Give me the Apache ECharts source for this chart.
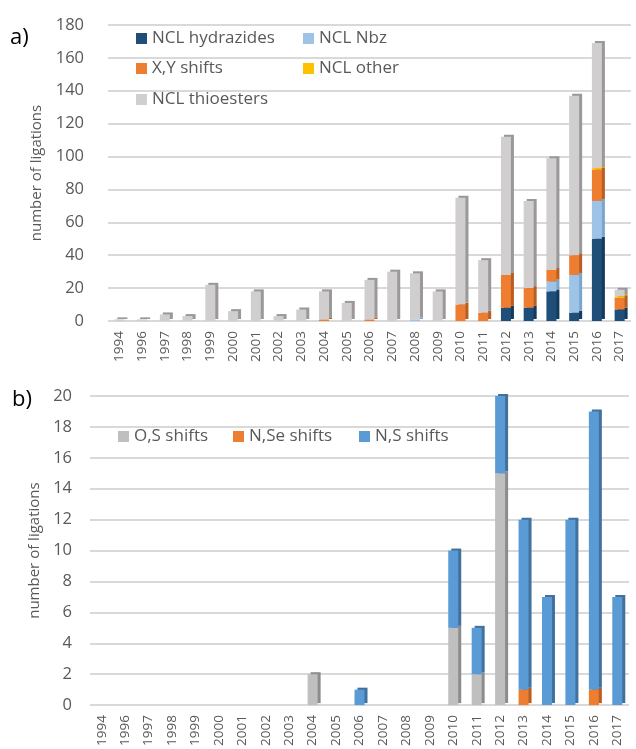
<!DOCTYPE html>
<html>
<head>
<meta charset="utf-8">
<script src="https://cdn.jsdelivr.net/npm/echarts@6/dist/echarts.min.js"></script>
<style>
  html, body { margin: 0; padding: 0; background: #fff; }
  #chart { width: 636px; height: 749px; }
</style>
</head>
<body>
<div id="chart"></div>
<script>
// 年份
const years = ['1994', '1996', '1997', '1998', '1999', '2000', '2001', '2002', '2003', '2004', '2005', '2006',
  '2007', '2008', '2009', '2010', '2011', '2012', '2013', '2014', '2015', '2016', '2017'];

// a) 数据
const nclHydrazides = [0, 0, 0, 0, 0, 0, 0, 0, 0, 0, 0, 0, 0, 0, 0, 0, 0, 8, 8, 18, 5, 50, 7];
const nclNbz        = [0, 0, 0, 0, 0, 0, 0, 0, 0, 0, 0, 0, 0, 1, 0, 0, 0, 0, 0, 6, 23, 23, 0];
const xyShifts      = [0, 0, 0, 0, 0, 0, 0, 0, 0, 1, 0, 1, 0, 0, 0, 10, 5, 20, 12, 7, 12, 19, 7];
const nclOther      = [0, 0, 0, 0, 0, 0, 0, 0, 0, 0, 0, 0, 0, 0, 0, 0, 0, 0, 0, 0, 0, 1, 1];
const nclThioesters = [1, 1, 4, 3, 22, 6, 18, 3, 7, 17, 11, 24, 30, 28, 18, 65, 32, 84, 53, 68, 97, 76, 4];

// b) 数据
const osShifts  = [0, 0, 0, 0, 0, 0, 0, 0, 0, 2, 0, 0, 0, 0, 0, 5, 2, 15, 0, 0, 0, 0, 0];
const nseShifts = [0, 0, 0, 0, 0, 0, 0, 0, 0, 0, 0, 0, 0, 0, 0, 0, 0, 0, 1, 0, 0, 1, 0];
const nsShifts  = [0, 0, 0, 0, 0, 0, 0, 0, 0, 0, 0, 1, 0, 0, 0, 5, 3, 5, 11, 7, 12, 18, 7];

const FONT = '"Open Sans", sans-serif';
const LABEL_COLOR = '#595959';

// 仿 Excel 3D 柱子的侧面
function barSeries(name, data, color, side, axisIdx) {
  return {
    name: name,
    type: 'bar',
    stack: 'total' + axisIdx,
    xAxisIndex: axisIdx,
    yAxisIndex: axisIdx,
    data: data,
    barWidth: 10,
    itemStyle: {
      color: color,
      shadowColor: side,
      shadowBlur: 0,
      shadowOffsetX: 3,
      shadowOffsetY: -2
    }
  };
}

function legendItem(name, left, top) {
  return {
    data: [name],
    left: left,
    top: top,
    padding: 0,
    icon: 'rect',
    itemWidth: 11,
    itemHeight: 11,
    itemGap: 6,
    textStyle: { color: LABEL_COLOR, fontSize: 17, fontFamily: FONT },
    selectedMode: false
  };
}

function xAxis(gridIdx) {
  return {
    type: 'category',
    gridIndex: gridIdx,
    data: years,
    axisLine: { show: false },
    axisTick: { show: false },
    axisLabel: { rotate: 90, color: LABEL_COLOR, fontSize: 13.5, fontFamily: FONT, margin: 10 }
  };
}

function yAxis(gridIdx, max, interval, nameGap, labelMargin) {
  return {
    type: 'value',
    gridIndex: gridIdx,
    min: 0,
    max: max,
    interval: interval,
    name: 'number of ligations',
    nameLocation: 'middle',
    nameGap: nameGap,
    nameTextStyle: { color: LABEL_COLOR, fontSize: 15, fontFamily: FONT },
    axisLine: { show: false },
    axisTick: { show: false },
    axisLabel: { color: LABEL_COLOR, fontSize: 16.5, fontFamily: FONT, margin: labelMargin },
    splitLine: { lineStyle: { color: '#d9d9d9', width: 2 } }
  };
}

const chart = echarts.init(document.getElementById('chart'));

chart.setOption({
  backgroundColor: '#fff',
  animation: false,
  title: [
    { text: 'a)', left: 5, top: 22, textStyle: { fontSize: 22, fontWeight: 'normal', color: '#000', fontFamily: FONT } },
    { text: 'b)', left: 7, top: 384, textStyle: { fontSize: 22, fontWeight: 'normal', color: '#000', fontFamily: FONT } }
  ],
  legend: [
    legendItem('NCL hydrazides', 136, 30),
    legendItem('NCL Nbz', 303, 30),
    legendItem('X,Y shifts', 136, 60),
    legendItem('NCL other', 303, 60),
    legendItem('NCL thioesters', 136, 91),
    legendItem('O,S shifts', 118, 428),
    legendItem('N,Se shifts', 233, 428),
    legendItem('N,S shifts', 359, 428)
  ],
  grid: [
    { left: 108, right: 5, top: 25, height: 296 },
    { left: 90, right: 7, top: 396, height: 311 }
  ],
  xAxis: [xAxis(0), xAxis(1)],
  yAxis: [yAxis(0, 180, 20, 64, 24), yAxis(1, 20, 2, 48, 18)],
  series: [
    barSeries('NCL hydrazides', nclHydrazides, '#1f4e79', '#163a5b', 0),
    barSeries('NCL Nbz', nclNbz, '#9dc3e6', '#7aa5cc', 0),
    barSeries('X,Y shifts', xyShifts, '#ed7d31', '#b85e22', 0),
    barSeries('NCL other', nclOther, '#ffc000', '#c79500', 0),
    barSeries('NCL thioesters', nclThioesters, '#d0cece', '#9a9898', 0),
    barSeries('O,S shifts', osShifts, '#bfbfbf', '#8c8c8c', 1),
    barSeries('N,Se shifts', nseShifts, '#ed7d31', '#b85e22', 1),
    barSeries('N,S shifts', nsShifts, '#5b9bd5', '#41719c', 1)
  ]
});
</script>
</body>
</html>
